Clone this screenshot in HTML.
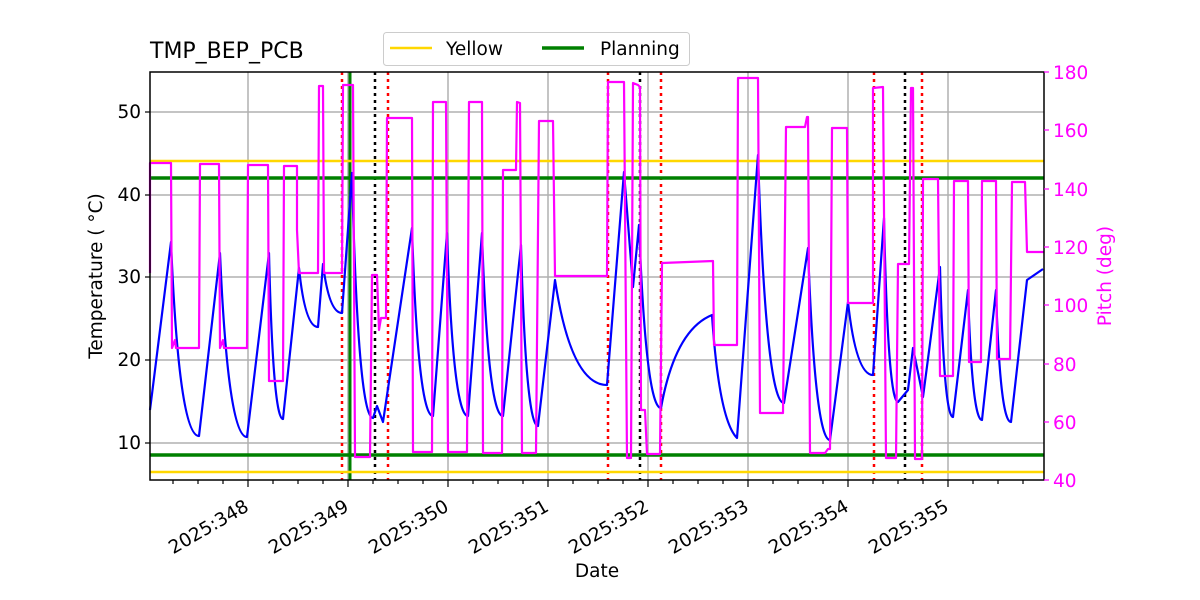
<!DOCTYPE html>
<html><head><meta charset="utf-8"><style>
html,body{margin:0;padding:0;background:#fff;}
svg{display:block;font-family:"DejaVu Sans","Liberation Sans",sans-serif;}
</style></head><body>
<svg width="1200" height="600" viewBox="0 0 1200 600" xmlns="http://www.w3.org/2000/svg">
<rect width="1200" height="600" fill="#fff"/>
<g stroke="#b0b0b0" stroke-width="1.5" fill="none">
<line x1="248" y1="72" x2="248" y2="480"/><line x1="348" y1="72" x2="348" y2="480"/>
<line x1="448" y1="72" x2="448" y2="480"/><line x1="548" y1="72" x2="548" y2="480"/>
<line x1="648" y1="72" x2="648" y2="480"/><line x1="748" y1="72" x2="748" y2="480"/>
<line x1="848" y1="72" x2="848" y2="480"/><line x1="948" y1="72" x2="948" y2="480"/>
<line x1="150" y1="443" x2="1044" y2="443"/><line x1="150" y1="360" x2="1044" y2="360"/>
<line x1="150" y1="277" x2="1044" y2="277"/><line x1="150" y1="195" x2="1044" y2="195"/>
<line x1="150" y1="112" x2="1044" y2="112"/>
</g>
<g stroke-width="2.5" stroke-dasharray="3,4" fill="none">
<line x1="342" y1="72" x2="342" y2="480" stroke="#f00"/>
<line x1="388" y1="72" x2="388" y2="480" stroke="#f00"/>
<line x1="608" y1="72" x2="608" y2="480" stroke="#f00"/>
<line x1="661" y1="72" x2="661" y2="480" stroke="#f00"/>
<line x1="874" y1="72" x2="874" y2="480" stroke="#f00"/>
<line x1="922" y1="72" x2="922" y2="480" stroke="#f00"/>
<line x1="375" y1="72" x2="375" y2="480" stroke="#000"/>
<line x1="640" y1="72" x2="640" y2="480" stroke="#000"/>
<line x1="905" y1="72" x2="905" y2="480" stroke="#000"/>
</g>
<line x1="350" y1="72" x2="350" y2="480" stroke="#008000" stroke-width="3"/>
<g stroke-width="2.5">
<line x1="150" y1="161" x2="1044" y2="161" stroke="#ffd700"/>
<line x1="150" y1="472" x2="1044" y2="472" stroke="#ffd700"/>
<line x1="150" y1="178" x2="1044" y2="178" stroke="#008000" stroke-width="3.5"/>
<line x1="150" y1="455" x2="1044" y2="455" stroke="#008000" stroke-width="3.5"/>
</g>
<path fill="none" stroke="#0000ff" stroke-width="2.2" stroke-linejoin="round" d="M150,410 L171,242 Q179,436 199,436 L220,253 Q228,437 247,437 L269,253 Q273,419 283,419 L299,268 Q305,327 318,327 L323,264 Q329,313 342,313 L352,173 Q358,418 373,418 L377,406 L383,422 L412,228 Q418,416 433,416 L447,233 Q453,416 468,416 L482,233 Q488,416 503,416 L521,245 Q526,426 538,426 L555,280 Q571,385 607,385 L624,172 L633,287 L639,225 Q646,408 661,408 Q675,330 712,315 Q719,420 737,438 L758,155 Q766,403 784,403 L808,248 Q815,440 830,440 L848,302 Q856,375 873,375 L884,218 Q888,402 898,402 L908,390 L913,348 L923,397 L940,267 Q944,417 953,417 L968,290 Q972,420 982,420 L996,290 Q1000,422 1011,422 L1027,280 L1043,269"/>
<polyline fill="none" stroke="#ff00ff" stroke-width="2.2" stroke-linejoin="round" points="150,273 150,163 171,163 172,348 175,340 176,348 199,348 200,164 219,164 220,348 223,340 224,348 247,348 248,165 268,165 269,381 283,381 284,166 297,166 297,230 299,273 318,273 319,86 323,86 324,273 342,273 343,85 353,85 355,457 370,457 372,275 377,275 379,330 381,318 386,318 387,118 412,118 413,452 432,452 433,102 446,102 448,452 467,452 469,102 482,102 483,453 502,453 503,170 516,170 517,102 520,103 522,453 536,453 539,121 553,121 555,276 607,276 608,82 624,82 627,458 631,458 633,83 638,85 640,87 641,410 645,410 647,454 660,454 662,263 713,261 714,345 737,345 738,78 758,78 760,413 783,413 786,127 805,127 807,117 808,117 810,453 825,453 828,449 830,449 832,128 847,128 848,303 873,303 873,88 883,87 886,458 896,458 898,264 909,264 911,88 913,88 915,459 922,459 923,179 938,179 940,376 953,376 954,181 968,181 969,362 981,362 982,181 996,181 997,359 1010,359 1012,182 1025,182 1027,252 1044,252"/>
<rect x="150" y="72" width="894" height="408" fill="none" stroke="#000" stroke-width="1.5"/>
<g stroke="#000" stroke-width="1.2">
<line x1="150" y1="443" x2="145" y2="443"/><line x1="150" y1="360" x2="145" y2="360"/>
<line x1="150" y1="277" x2="145" y2="277"/><line x1="150" y1="195" x2="145" y2="195"/>
<line x1="150" y1="112" x2="145" y2="112"/>
<line x1="248" y1="480" x2="248" y2="487"/><line x1="348" y1="480" x2="348" y2="487"/>
<line x1="448" y1="480" x2="448" y2="487"/><line x1="548" y1="480" x2="548" y2="487"/>
<line x1="648" y1="480" x2="648" y2="487"/><line x1="748" y1="480" x2="748" y2="487"/>
<line x1="848" y1="480" x2="848" y2="487"/><line x1="948" y1="480" x2="948" y2="487"/>
<path fill="none" d="M173,480v4M198,480v4M223,480v4M273,480v4M298,480v4M323,480v4M373,480v4M398,480v4M423,480v4M473,480v4M498,480v4M523,480v4M573,480v4M598,480v4M623,480v4M673,480v4M698,480v4M723,480v4M773,480v4M798,480v4M823,480v4M873,480v4M898,480v4M923,480v4M973,480v4M998,480v4M1023,480v4"/>
</g>
<g stroke="#f0f" stroke-width="1.2">
<line x1="1044" y1="72" x2="1049" y2="72"/><line x1="1044" y1="130" x2="1049" y2="130"/>
<line x1="1044" y1="189" x2="1049" y2="189"/><line x1="1044" y1="247" x2="1049" y2="247"/>
<line x1="1044" y1="305" x2="1049" y2="305"/><line x1="1044" y1="364" x2="1049" y2="364"/>
<line x1="1044" y1="422" x2="1049" y2="422"/><line x1="1044" y1="480" x2="1049" y2="480"/>
</g>
<g font-size="18.5" fill="#000" text-anchor="end">
<text x="141" y="449">10</text><text x="141" y="366">20</text><text x="141" y="283">30</text>
<text x="141" y="201">40</text><text x="141" y="118">50</text>
</g>
<g font-size="18.5" fill="#f0f">
<text x="1053" y="79">180</text><text x="1053" y="137">160</text><text x="1053" y="196">140</text>
<text x="1053" y="254">120</text><text x="1053" y="312">100</text><text x="1053" y="371">80</text>
<text x="1053" y="429">60</text><text x="1053" y="487">40</text>
</g>
<g font-size="18.5" fill="#000" text-anchor="end">
<text transform="translate(250,510) rotate(-30)">2025:348</text>
<text transform="translate(350,510) rotate(-30)">2025:349</text>
<text transform="translate(450,510) rotate(-30)">2025:350</text>
<text transform="translate(550,510) rotate(-30)">2025:351</text>
<text transform="translate(650,510) rotate(-30)">2025:352</text>
<text transform="translate(750,510) rotate(-30)">2025:353</text>
<text transform="translate(850,510) rotate(-30)">2025:354</text>
<text transform="translate(950,510) rotate(-30)">2025:355</text>
</g>
<text x="597" y="577" font-size="18.5" text-anchor="middle">Date</text>
<text transform="translate(102,276) rotate(-90)" font-size="18.5" text-anchor="middle">Temperature ( °C)</text>
<text transform="translate(1111,276) rotate(-90)" font-size="18.5" text-anchor="middle" fill="#f0f">Pitch (deg)</text>
<text x="150" y="58" font-size="22">TMP_BEP_PCB</text>
<rect x="383.5" y="32.5" width="306" height="33" rx="3" fill="#fff" stroke="#ccc"/>
<line x1="390" y1="48" x2="432" y2="48" stroke="#ffd700" stroke-width="2.5"/>
<text x="446" y="55" font-size="18.5">Yellow</text>
<line x1="542" y1="48" x2="584" y2="48" stroke="#008000" stroke-width="3.5"/>
<text x="600" y="55" font-size="18.5">Planning</text>
</svg>
</body></html>
